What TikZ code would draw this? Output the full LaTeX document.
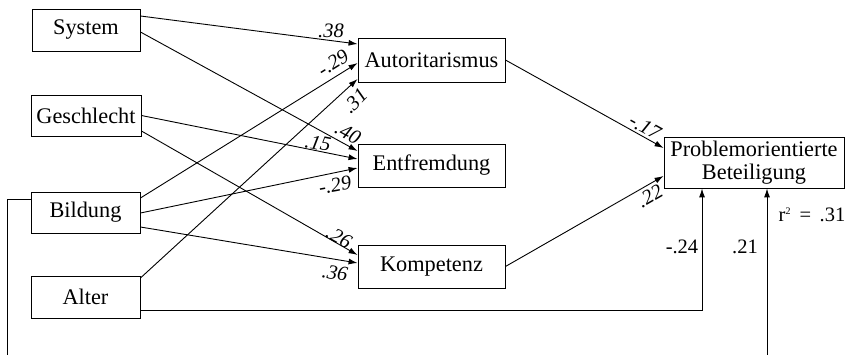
\documentclass[tikz,border=0pt]{standalone}
\usepackage{fontspec}
\setmainfont{Liberation Serif}
\usetikzlibrary{arrows.meta}
\tikzset{
  box/.style={draw, line width=0.9pt, inner sep=0pt, font=\fontsize{22.3}{23}\selectfont, align=center},
  arr/.style={line width=0.9pt, -{Latex[length=9pt,width=6pt]}},
  coef/.style={font=\fontsize{20.5}{22}\selectfont\itshape, inner sep=0pt},
  ucoef/.style={font=\fontsize{20.5}{22}\selectfont, inner sep=0pt},
}
\begin{document}
\begin{tikzpicture}[x=1pt,y=-1pt]
\useasboundingbox (0,0) rectangle (858,355);
\clip (0,0) rectangle (858,355);
% predictors
\node[box, minimum width=108pt, minimum height=42pt] (sys) at (86,30) {System};
\node[box, minimum width=110pt, minimum height=41pt] (ges) at (86,115.5) {Geschlecht};
\node[box, minimum width=109pt, minimum height=41pt] (bil) at (85.5,212.5) {Bildung};
\node[box, minimum width=109pt, minimum height=42pt] (alt) at (85.5,297) {Alter};
% mediators
\node[box, minimum width=147pt, minimum height=44pt] (aut) at (431.5,60) {Autoritarismus};
\node[box, minimum width=147pt, minimum height=43pt] (ent) at (431.5,165.5) {Entfremdung};
\node[box, minimum width=147pt, minimum height=43pt] (kom) at (431.5,266.5) {Kompetenz};
% outcome
\node[box, minimum width=180pt, minimum height=51pt] (pro) at (754,162.5) {Problemorientierte\\Beteiligung};
\coordinate (fb) at (7,380);
% connectors
\draw[arr] ([yshift=14pt]sys.east) -- ([yshift=16pt]aut.west);
\draw[arr] ([yshift=-2pt]sys.east) -- ([yshift=14.5pt]ent.west);
\draw[arr] ([yshift=0pt]ges.east) -- ([yshift=6.5pt]ent.west);
\draw[arr] ([yshift=-15.5pt]ges.east) -- ([yshift=11.5pt]kom.west);
\draw[arr] ([yshift=14.5pt]bil.east) -- ([yshift=-3pt]aut.west);
\draw[arr] ([yshift=-0.5pt]bil.east) -- ([yshift=-2.5pt]ent.west);
\draw[arr] ([yshift=-14.5pt]bil.east) -- ([yshift=3.5pt]kom.west);
\draw[arr] ([yshift=19pt]alt.east) -- ([yshift=-19pt]aut.west);
\draw[arr] (aut.east) -- ([yshift=14.5pt]pro.west);
\draw[arr] (kom.east) -- ([yshift=-13.5pt]pro.west);
\draw[arr] ([yshift=-13pt]alt.east) -| ([xshift=-52pt]pro.south);
\draw[arr] ([yshift=13.5pt]bil.west) -| (fb) -| ([xshift=13pt]pro.south);
% coefficients
\node[coef] (c1) at (331,31) {.38};
\node[coef, rotate=32] (c2) at (333,63) {-.29};
\node[coef, rotate=45] (c3) at (355,101) {.31};
\node[coef, rotate=-28] (c4) at (348,133) {.40};
\node[coef, rotate=-11] (c5) at (318,143) {.15};
\node[coef, rotate=10] (c6) at (335,185) {-.29};
\node[coef, rotate=-29] (c7) at (339,237) {.26};
\node[coef, rotate=-9] (c8) at (335,273) {.36};
\node[coef, rotate=-29] (c9) at (645,127) {-.17};
\node[coef, rotate=30] (c10) at (650,196) {.22};
\node[ucoef] (c11) at (682,247) {-.24};
\node[ucoef] (c12) at (745,247) {.21};
\node[ucoef] (r2) at (812,215) {r\textsuperscript{\fontsize{10}{10}\selectfont 2}\, =\, .31};
\end{tikzpicture}
\end{document}
